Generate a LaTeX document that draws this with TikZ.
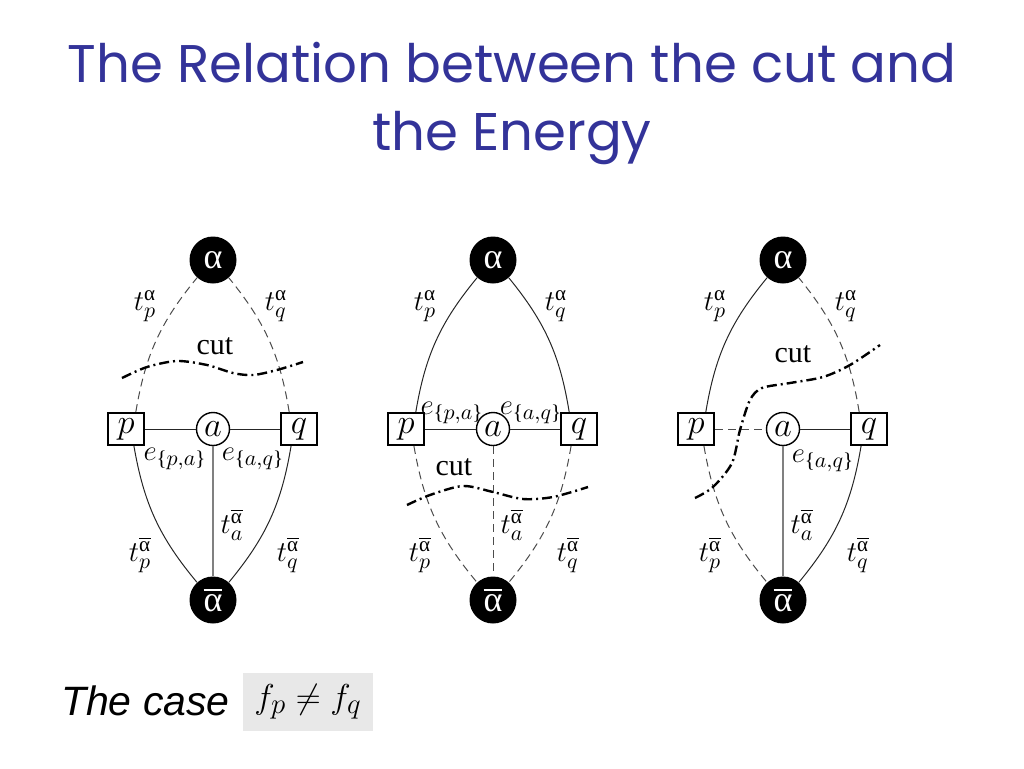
\documentclass[tikz,border=0pt]{standalone}
\usepackage{amsmath}
\usepackage{fontspec}
\setmainfont{Liberation Serif}
\newfontfamily\titlefont{Poppins}
\newfontfamily\casefont{Liberation Sans}
\usetikzlibrary{positioning}
\definecolor{titleblue}{RGB}{51,51,153}
\newcommand{\gal}{\text{α}}
\newcommand{\gbar}{\overline{\text{α}}}
\newcommand{\eset}[2]{e_{\text{\{}#1,#2\text{\}}}}
\tikzset{
  terminal/.style={circle,fill=black,text=white,minimum size=23.5pt,inner sep=0pt,font=\fontsize{18}{20}\selectfont},
  pixel/.style={rectangle,draw,line width=1pt,minimum width=18pt,minimum height=16pt,inner sep=0pt,font=\fontsize{16}{18}\selectfont},
  aux/.style={circle,draw,line width=0.7pt,minimum size=16.5pt,inner sep=0pt,font=\fontsize{16}{18}\selectfont},
  link/.style={draw=black!85,line width=0.5pt},
  tlink/.style={draw=black!50,line width=0.6pt},
  severed/.style={draw=black!70,line width=0.5pt,dash pattern=on 4pt off 2.5pt},
  cutline/.style={line width=1.2pt,dash pattern=on 5pt off 2pt on 1pt off 2pt},
  lbl/.style={inner sep=0pt,font=\fontsize{15}{17}\selectfont}
}

\begin{document}
\begin{tikzpicture}[x=0.5pt,y=-0.5pt,on grid]
  \useasboundingbox (0,0) rectangle (1024,768);

  % title
  \node[anchor=base,text=titleblue,font=\titlefont\fontsize{26.5}{32}\selectfont] (title) at (512,82) {The Relation between the cut and};
  \node[anchor=base,text=titleblue,font=\titlefont\fontsize{26.5}{32}\selectfont] (title2) at (512,150) {the Energy};

  % the three graphs
  \foreach \i/\x in {1/213,2/493,3/783}{
    \node[terminal] (alpha\i) at (\x,260) {α};
    \node[aux]      (a\i) [below=84.5pt of alpha\i] {$a$};
    \node[pixel]    (p\i) [left=43.5pt of a\i] {$p$};
    \node[pixel]    (q\i) [right=43pt of a\i] {$q$};
    \node[terminal] (abar\i) [below=85.5pt of a\i] {$\gbar$};
    \node[lbl] (tpa\i) at ([shift={(-68,46)}]alpha\i) {$t_p^{\gal}$};
    \node[lbl] (tqa\i) at ([shift={(63,46)}]alpha\i) {$t_q^{\gal}$};
    \node[lbl] (taab\i) at ([shift={(19,265)}]alpha\i) {$t_a^{\gbar}$};
    \node[lbl] (tpab\i) at ([shift={(-73,295)}]alpha\i) {$t_p^{\gbar}$};
    \node[lbl] (tqab\i) at ([shift={(75,295)}]alpha\i) {$t_q^{\gbar}$};
  }

  % graph 1
  \path (p1.60) edge[severed,bend left=15] (alpha1)
        (q1.120) edge[severed,bend right=15] (alpha1)
        (p1) edge[link] (a1)
        (a1) edge[link] (q1)
        (p1.-65) edge[link,bend right=15] (abar1)
        (q1.-115) edge[link,bend left=15] (abar1)
        (a1) edge[tlink] (abar1);
  \node[lbl] (epa1) at (175,459) {$\eset{p}{a}$};
  \node[lbl] (eaq1) at (253,459) {$\eset{a}{q}$};
  \node[lbl,font=\fontsize{15}{18}\selectfont] (cut1) at (215,346) {cut};
  \draw[cutline] plot[smooth] coordinates {(122,378) (147,367) (177,361) (207,365) (233,373) (253,375) (277,370) (303,362)};

  % graph 2
  \path (p2.60) edge[link,bend left=15] (alpha2)
        (q2.120) edge[link,bend right=15] (alpha2)
        (p2) edge[link] (a2)
        (a2) edge[link] (q2)
        (p2.-65) edge[severed,bend right=15] (abar2)
        (q2.-115) edge[severed,bend left=15] (abar2)
        (a2) edge[severed] (abar2);
  \node[lbl] (epa2) at (452,413) {$\eset{p}{a}$};
  \node[lbl] (eaq2) at (531,413) {$\eset{a}{q}$};
  \node[lbl,font=\fontsize{15}{18}\selectfont] (cut2) at (454,467) {cut};
  \draw[cutline] plot[smooth] coordinates {(407,505) (430,495) (463,486) (493,492) (523,499) (553,497) (588,487)};

  % graph 3
  \path (p3.60) edge[link,bend left=15] (alpha3)
        (q3.120) edge[severed,bend right=15] (alpha3)
        (p3) edge[severed] (a3)
        (a3) edge[link] (q3)
        (p3.-65) edge[severed,bend right=15] (abar3)
        (q3.-115) edge[link,bend left=15] (abar3)
        (a3) edge[tlink] (abar3);
  \node[lbl] (eaq3) at (823,461) {$\eset{a}{q}$};
  \node[lbl,font=\fontsize{15}{18}\selectfont] (cut3) at (793,354) {cut};
  \draw[cutline] plot[smooth] coordinates {(695,498) (713,487) (732,463) (740,430) (750,400) (762,388) (790,383) (823,377) (850,365) (880,345)};

  % the case
  \node[anchor=base west,font=\casefont\itshape\fontsize{20.5}{24}\selectfont] (case) at (54,715) {The case};
  \node[fill=black!9,minimum width=65pt,minimum height=29pt,font=\fontsize{19}{22}\selectfont] (cond) at (308,702) {$f_p \neq f_q$};
\end{tikzpicture}
\end{document}
